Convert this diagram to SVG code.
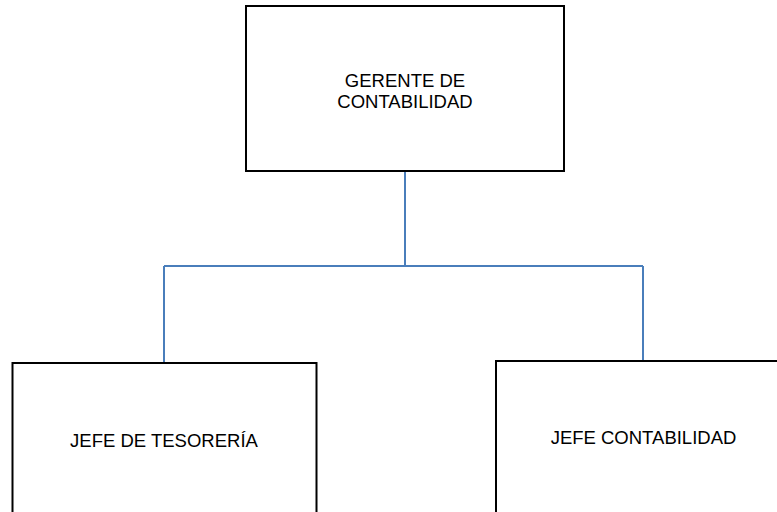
<svg xmlns="http://www.w3.org/2000/svg" width="777" height="512" viewBox="0 0 777 512">
<style>
.box{fill:#ffffff;stroke:#000000;stroke-width:2}
.lbl{font-family:"Liberation Sans",Arial,sans-serif;font-size:18.5px;fill:#000000;text-anchor:middle}
.conn{fill:none;stroke:#4a7ebb;stroke-width:2}
</style>
<rect x="0" y="0" width="777" height="512" fill="#ffffff"/>
<g id="connectors">
<path class="conn" d="M405 171 V266"/>
<path class="conn" d="M164 266 H643"/>
<path class="conn" d="M164 266 V363"/>
<path class="conn" d="M643 266 V361"/>
</g>
<g id="gerente">
<rect class="box" x="246" y="6" width="318" height="165"/>
<text class="lbl" x="405" y="86.5">GERENTE DE</text>
<text class="lbl" x="405" y="108">CONTABILIDAD</text>
</g>
<g id="tesoreria">
<rect class="box" x="12.5" y="363" width="304" height="200"/>
<text class="lbl" x="164" y="447">JEFE DE TESORERÍA</text>
</g>
<g id="contabilidad">
<rect class="box" x="496" y="361" width="320" height="200"/>
<text class="lbl" x="643.5" y="444">JEFE CONTABILIDAD</text>
</g>
</svg>
